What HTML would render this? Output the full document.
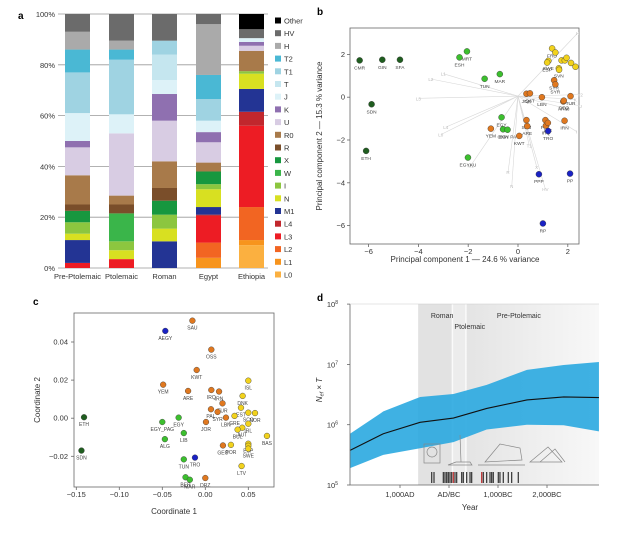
<!DOCTYPE html>
<html><head><meta charset="utf-8"><style>
body{margin:0;background:#fff}
svg{display:block;font-family:"Liberation Sans",sans-serif}
</style></head><body>
<svg id="fig" width="619" height="534" viewBox="0 0 619 534">
<g id="pa"></g>
<g id="pb"></g>
<g id="pc"></g>
<g id="pd"></g>
</svg>
<script>
const NS="http://www.w3.org/2000/svg";
function mk(p,t,a,txt){const e=document.createElementNS(NS,t);for(const k in a)e.setAttribute(k,a[k]);if(txt!=null)e.textContent=txt;p.appendChild(e);return e;}

/* ---------- Panel A data ---------- */
const haploNames=["L0","L1","L2","L3","L4","M1","N","I","W","X","R","R0","U","K","J","T","T1","T2","H","HV","Other"];
const haploColors=["#fbb040","#f7941d","#f26522","#ed1c24","#c1272d","#233494","#d8e021","#8cc63f","#3ab54a","#17973f","#7a4e2a","#a87a4a","#d8cce3","#8f70b0","#ddf2f8","#c5e6ef","#9fd3e2","#4ab8d4","#aaaaaa","#6b6b6b","#000000"];
const groups=["Pre-Ptolemaic","Ptolemaic","Roman","Egypt","Ethiopia"];
const fracPre=[0,0,0,2,0,9,2.5,4.5,0,4.5,2.5,11.5,11,2.5,11,0,16,9,7,7,0];
const fracPto=[0,0,0,3.5,0,0,3.5,3.5,11,0,3.5,3.5,24.5,0,7.5,0,21.5,4,3.5,10.5,0];
const fracRom=[0,0,0,0,0,10.5,5,5.5,0,5.5,5,10.5,16,10.5,5.5,10,5.5,0,0,10.5,0];
const fracEgy=[0,4,6,10.5,0.5,3,7,2,0,5,0,3.5,8,4,4.5,0,8.5,9.5,20,4,0];
const fracEth=[9,2,13,32,5.5,9,6,1,0,0,0,8,2,1.5,1.5,0,0,0,0,3.5,6];
const fracs=[fracPre,fracPto,fracRom,fracEgy,fracEth];
const aTicks=[0,20,40,60,80,100];
(function(){
const g=document.getElementById('pa');
const y0=268,y1=14,ya=v=>y0-(y0-y1)*v/100;
const bx=[65,109,152,196,239],bw=25;
let t=mk(g,'text',{x:18,y:19,'font-size':10,'font-weight':'bold'},'a');

aTicks.forEach(v=>{
 let l=mk(g,'line',{x1:58,x2:268,y1:ya(v),y2:ya(v),stroke:'#999','stroke-width':0.8});
 
 let tx=mk(g,'text',{x:55,y:ya(v)+3,'font-size':7.5,'text-anchor':'end',fill:'#333'},v+'%');
 
});
fracs.forEach((fr,gi)=>{
 let cum=0;
 fr.forEach((v,hi)=>{ if(v<=0)return;
  let r=mk(g,'rect',{x:bx[gi],width:bw,y:ya(cum+v),height:ya(cum)-ya(cum+v),fill:haploColors[hi]});
  
  
  cum+=v;});
 let tx=mk(g,'text',{x:bx[gi]+bw/2,y:279,'font-size':7.5,'text-anchor':'middle',fill:'#333'},groups[gi]);
 
});
for(let i=0;i<haploNames.length;i++){
 const hi=haploNames.length-1-i,y=21+12.7*i;
 let r=mk(g,'rect',{x:275,y:y-3.5,width:6,height:6,fill:haploColors[hi]});
 
 let tx=mk(g,'text',{x:284,y:y+2.5,'font-size':7.5,fill:'#333'},haploNames[hi]);
 
}
})();

/* ---------- Panel B data ---------- */
const bNames=["CMR","GIN","SFA","SDN","ETH","MRT","ESH","MAR","TUN","EGY","OMN","EGYKU","YEM","EGY PA","KWT","JOR","QAT","LBN","SAU","ARE","PAK","IRQ","IRN","ISR","SYR","SYR2","ARM","GEO","TUR","TRO","PPP","PP","RP","FRO","DEN","SWE","ESP","NOR","IRL","ENG","HUN","ISL","SVN","ITA"];
const bX=[-6.36,-5.45,-4.74,-5.88,-6.1,-2.05,-2.35,-0.73,-1.34,-0.66,-0.6,-2.01,-1.09,-0.42,0.05,0.34,0.48,0.96,0.34,0.37,1.1,1.12,1.87,1.2,1.45,1.5,1.82,1.84,2.11,1.21,0.84,2.09,1.0,1.37,1.5,1.22,1.17,1.75,1.88,1.95,2.13,2.31,1.64,1.65];
const bY=[1.72,1.75,1.75,-0.33,-2.51,2.14,1.86,1.08,0.86,-0.94,-1.5,-2.82,-1.47,-1.52,-1.81,0.16,0.18,0,-1.07,-1.35,-1.07,-1.33,-1.1,-1.2,0.79,0.6,-0.2,-0.16,0.05,-1.58,-3.6,-3.57,-5.9,2.28,2.09,1.7,1.62,1.72,1.72,1.84,1.6,1.42,1.35,1.28];
const bGroup=[0,0,0,0,0,1,1,1,1,1,1,1,2,1,2,2,2,2,2,2,2,2,2,2,2,2,2,2,2,3,3,3,3,4,4,4,4,4,4,4,4,4,4,4];
const bLoadNames=["H","L3","L2","L1","L4","L0","M1","R","N","HV","X","T2","U","I","K","T1","W"];
const bLoadX=[2.4,-4.0,-3.5,-3.0,-2.9,-3.1,-1.9,-0.4,-0.25,1.1,0.75,2.5,2.5,2.35,2.3,0.45,2.0];
const bLoadY=[3.0,-0.05,0.85,1.1,-1.4,-1.75,-3.2,-3.5,-4.15,-4.3,-3.25,0.12,-0.4,-1.6,-0.1,-2.25,-0.55];
const bTicksX=[-6,-4,-2,0,2];
const bTicksY=[-6,-4,-2,0,2];
const grpCol=["#1f5d1f","#3cbf2e","#e0781f","#1a22c4","#f2d21c"];
(function(){
const g=document.getElementById('pb');
const sx=v=>518+v*24.9, sy=v=>97.2-v*21.4;
let t=mk(g,'text',{x:317,y:15,'font-size':10,'font-weight':'bold'},'b');

let box=mk(g,'rect',{x:350,y:28,width:229,height:216,fill:'none',stroke:'#666','stroke-width':0.8});

bLoadNames.forEach((n,i)=>{
 let l=mk(g,'line',{x1:sx(0),y1:sy(0.05),x2:sx(bLoadX[i]),y2:sy(bLoadY[i]),stroke:'#d8d8d8','stroke-width':0.6});
 
 let tx=mk(g,'text',{x:sx(bLoadX[i]),y:sy(bLoadY[i])+2,'font-size':4.5,fill:'#bbb','text-anchor':'middle'},n);
 
});
bTicksX.forEach(v=>{
 let l=mk(g,'line',{x1:sx(v),x2:sx(v),y1:244,y2:247,stroke:'#666','stroke-width':0.8});
 
 let tx=mk(g,'text',{x:sx(v),y:254,'font-size':7.5,'text-anchor':'middle',fill:'#333'},v===0?'0':(v<0?'\u2212'+(-v):v));
 
});
bTicksY.forEach(v=>{
 let l=mk(g,'line',{x1:347,x2:350,y1:sy(v),y2:sy(v),stroke:'#666','stroke-width':0.8});
 
 let tx=mk(g,'text',{x:345,y:sy(v)+2.5,'font-size':7.5,'text-anchor':'end',fill:'#333'},v===0?'0':(v<0?'\u2212'+(-v):v));
 
});
let xl=mk(g,'text',{x:465,y:262,'font-size':8,'text-anchor':'middle',fill:'#333'},'Principal component 1 \u2014 24.6 % variance');

let yl=mk(g,'text',{x:0,y:0,'font-size':8,'text-anchor':'middle',fill:'#333',transform:'translate(322,136) rotate(-90)'},'Principal component 2 \u2014 15.3 % variance');

bNames.forEach((n,i)=>{
 let c=mk(g,'circle',{cx:sx(bX[i]),cy:sy(bY[i]),r:3,fill:grpCol[bGroup[i]],stroke:'#333','stroke-width':0.4});
 
 if(bGroup[i]===4&&i>33&&i!==35&&i!==36&&i!==42)return;
 let tx=mk(g,'text',{x:sx(bX[i]),y:sy(bY[i])+9,'font-size':4.8,'text-anchor':'middle',fill:'#444'},n.replace('2',''));
 
});
})();

/* ---------- Panel C data ---------- */
const cNames=["ETH","SDN","AEGY","TRO","EGY_PAG","EGY","LIB","ALG","TUN","BER","MAR","SAU","OSS","KWT","YEM","ARE","IRQ","IRN","TUR","PAL","SYR","LBN","JOR","GEO","DRZ","ISL","DNK","EST","GRE","SCO","NOR","IRL","AUT","BUL","ESP","ESP2","SWE","POR","BAS","LTV"];
const cX=[-0.141,-0.144,-0.0465,-0.012,-0.05,-0.031,-0.025,-0.047,-0.025,-0.023,-0.018,-0.015,0.007,-0.01,-0.049,-0.02,0.007,0.016,0.02,0.0066,0.0143,0.024,0.0008,0.0205,0.0,0.05,0.0434,0.0415,0.034,0.05,0.0578,0.05,0.043,0.0376,0.05,0.05,0.05,0.0298,0.0717,0.0422];
const cY=[0.0005,-0.017,0.0458,-0.0207,-0.002,0.0003,-0.0078,-0.011,-0.0216,-0.031,-0.0323,0.0512,0.036,0.0253,0.0176,0.0143,0.0148,0.014,0.0078,0.0047,0.0033,0.0003,-0.002,-0.0143,-0.0314,0.0197,0.0117,0.0055,0.0012,0.0029,0.0027,-0.0029,-0.005,-0.006,-0.0134,-0.0145,-0.016,-0.014,-0.0093,-0.0251];
const cGroup=[0,0,3,3,1,1,1,1,1,1,1,2,2,2,2,2,2,2,2,2,2,2,2,2,2,4,4,4,4,4,4,4,4,4,4,4,4,4,4,4];
const cTicksX=[-0.15,-0.10,-0.05,0.00,0.05];
const cTicksY=[-0.02,0.00,0.02,0.04];
(function(){
const g=document.getElementById('pc');
const sx=v=>205.3+v*860, sy=v=>418.2-v*1905;
let t=mk(g,'text',{x:33,y:305,'font-size':10,'font-weight':'bold'},'c');

let box=mk(g,'rect',{x:74,y:313,width:200,height:174,fill:'none',stroke:'#666','stroke-width':0.8});

const fmt=v=>(v<0?'\u2212':'')+Math.abs(v).toFixed(2);
cTicksX.forEach(v=>{
 let l=mk(g,'line',{x1:sx(v),x2:sx(v),y1:487,y2:490,stroke:'#666','stroke-width':0.8});
 
 let tx=mk(g,'text',{x:sx(v),y:497,'font-size':7.5,'text-anchor':'middle',fill:'#333'},fmt(v));
 
});
cTicksY.forEach(v=>{
 let l=mk(g,'line',{x1:71,x2:74,y1:sy(v),y2:sy(v),stroke:'#666','stroke-width':0.8});
 
 let tx=mk(g,'text',{x:68,y:sy(v)+2.5,'font-size':7.5,'text-anchor':'end',fill:'#333'},fmt(v));
 
});
let xl=mk(g,'text',{x:174,y:514,'font-size':8,'text-anchor':'middle',fill:'#333'},'Coordinate 1');

let yl=mk(g,'text',{x:0,y:0,'font-size':8,'text-anchor':'middle',fill:'#333',transform:'translate(40,400) rotate(-90)'},'Coordinate 2');

cNames.forEach((n,i)=>{
 let c=mk(g,'circle',{cx:sx(cX[i]),cy:sy(cY[i]),r:2.9,fill:grpCol[cGroup[i]],stroke:'#333','stroke-width':0.4});
 
 if(n==='ESP2')return;
 let tx=mk(g,'text',{x:sx(cX[i]),y:sy(cY[i])+9,'font-size':5,'text-anchor':'middle',fill:'#444'},n);
 
});
})();

/* ---------- Panel D data ---------- */
const dYears=[2020,1340,590,-90,-770,-1590,-2340,-3060];
const dMedianLog=[5.574,5.85,6.04,6.11,6.27,6.41,6.46,6.45];
const dUpperLog=[5.85,6.22,6.46,6.51,6.66,6.91,6.99,7.04];
const dLowerLog=[5.28,5.5,5.61,5.71,5.92,6.0,5.99,5.89];
const dTickYears=[1000,0,-1000,-2000];
const dTickLabels=["1,000AD","AD/BC","1,000BC","2,000BC"];
const dYTicks=[5,6,7,8];
const dPeriods=["Roman","Ptolemaic","Pre-Ptolemaic"];
const dPeriodStart=[630,-70,-345];
const dPeriodEnd=[-70,-345,-3060];
const dSampleYears=[353,306,116,82,47,14,-20,-55,-88,-122,-157,-259,-292,-361,-429,-463,-667,-700,-769,-837,-871,-904,-1006,-1040,-1108,-1210,-1279,-1414];
const dSampleRed=[8,16];
(function(){
const g=document.getElementById('pd');
const sx=y=>449-y*0.049, sy=l=>485-(l-5)*60.3;
let t=mk(g,'text',{x:317,y:301,'font-size':10,'font-weight':'bold'},'d');

let defs=mk(g,'defs',{});
let gr=mk(defs,'linearGradient',{id:'pg',x1:0,x2:1,y1:0,y2:0});
mk(gr,'stop',{offset:0,'stop-color':'#e4e4e4'});mk(gr,'stop',{offset:1,'stop-color':'#f8f8f8'});
const fills=['#e2e2e2','#ececec','url(#pg)'];
dPeriods.forEach((p,i)=>{
 let r=mk(g,'rect',{x:sx(dPeriodStart[i]),y:304,width:sx(dPeriodEnd[i])-sx(dPeriodStart[i]),height:181,fill:fills[i]});
 
});
let l1=mk(g,'line',{x1:sx(-70),x2:sx(-70),y1:304,y2:485,stroke:'#fafafa','stroke-width':1.5});

let l2=mk(g,'line',{x1:sx(-345),x2:sx(-345),y1:304,y2:485,stroke:'#fafafa','stroke-width':1.5});

const labPos=[[sx(630)+24,318],[sx(-70)+2,329],[sx(-345)+53,318]];
dPeriods.forEach((p,i)=>{
 let tx=mk(g,'text',{x:labPos[i][0],y:labPos[i][1],'font-size':7,'text-anchor':i===1?'start':'middle',fill:'#333'},p);
 
});
let d='M'+dYears.map((y,i)=>sx(y)+','+sy(dUpperLog[i])).join('L');
for(let i=dYears.length-1;i>=0;i--)d+='L'+sx(dYears[i])+','+sy(dLowerLog[i]);
let band=mk(g,'path',{d:d+'Z',fill:'#2aa9e0','fill-opacity':0.9});

let med=mk(g,'polyline',{points:dYears.map((y,i)=>sx(y)+','+sy(dMedianLog[i])).join(' '),fill:'none',stroke:'#111','stroke-width':1.1});

let ill=mk(g,'g',{fill:'none',stroke:'#888','stroke-width':0.7});

mk(ill,'rect',{x:424,y:444,width:16,height:19});
mk(ill,'circle',{cx:432,cy:452,r:5});
mk(ill,'path',{d:'M460 435L461 462M456 462L470 462L472 465L448 465Z'});
mk(ill,'path',{d:'M485 462L500 444L520 448L522 460ZM478 465L525 465'});
mk(ill,'path',{d:'M530 462L548 447L562 462ZM540 462L555 449L565 462'});
dSampleYears.forEach((y,i)=>{
 let b=mk(g,'rect',{x:sx(y)-0.6,y:472,width:1.2,height:11,fill:dSampleRed.includes(i)?'#c03030':'#333'});
 
});
let box=mk(g,'path',{d:'M350 304L350 485L599 485',fill:'none',stroke:'#666','stroke-width':0.8});

let top=mk(g,'line',{x1:350,x2:599,y1:304,y2:304,stroke:'#ccc','stroke-width':0.6});

dTickYears.forEach((y,i)=>{
 let l=mk(g,'line',{x1:sx(y),x2:sx(y),y1:485,y2:488,stroke:'#666','stroke-width':0.8});
 
 let tx=mk(g,'text',{x:sx(y),y:497,'font-size':7.5,'text-anchor':'middle',fill:'#333'},dTickLabels[i]);
 
});
dYTicks.forEach(v=>{
 let l=mk(g,'line',{x1:347,x2:350,y1:sy(v),y2:sy(v),stroke:'#666','stroke-width':0.8});
 
 let tx=mk(g,'text',{x:338,y:sy(v)+3,'font-size':7.5,'text-anchor':'end',fill:'#333'},'10');
 
 mk(tx,'tspan',{dy:-3,'font-size':5},String(v));
});
let xl=mk(g,'text',{x:470,y:510,'font-size':8,'text-anchor':'middle',fill:'#333'},'Year');

let yl=mk(g,'text',{x:0,y:0,'font-size':8,'text-anchor':'middle',fill:'#333','font-style':'italic',transform:'translate(322,390) rotate(-90)'},'N');

mk(yl,'tspan',{'font-size':5.5,dy:1.5},'ef');
mk(yl,'tspan',{dy:-1.5,'font-style':'normal'},' \u00d7 ');
mk(yl,'tspan',{},'T');
})();
</script>
</body></html>
